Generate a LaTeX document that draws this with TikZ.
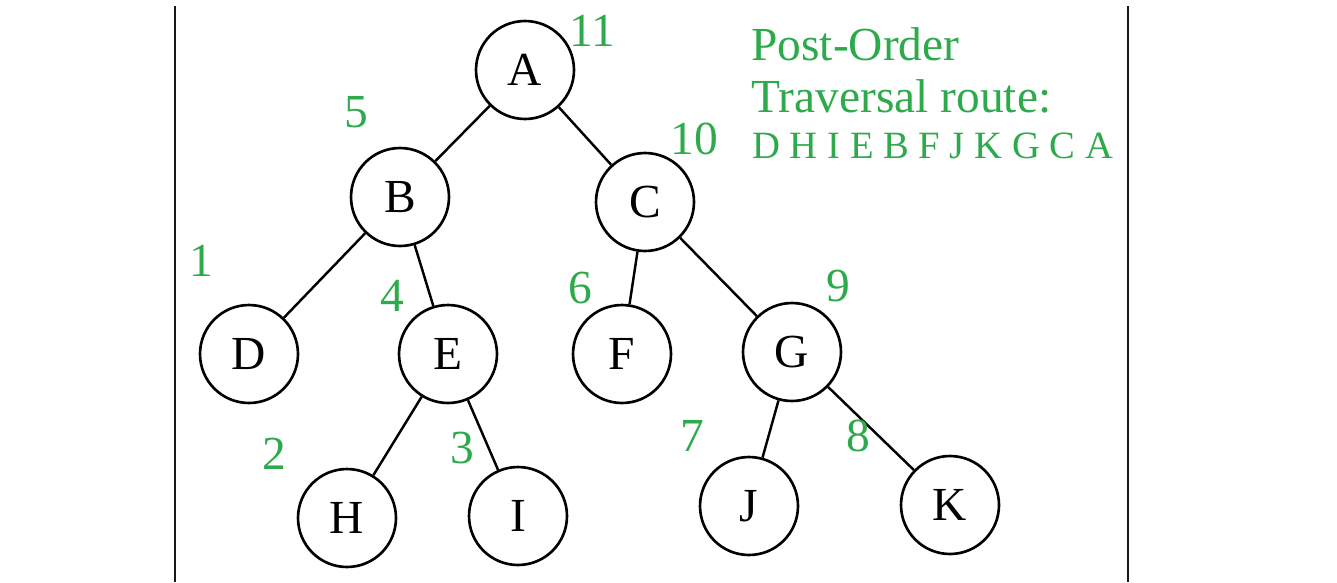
\documentclass[tikz,border=0pt]{standalone}
\usepackage{fontspec}
\setmainfont{Liberation Serif}
\usepackage{xcolor}
\usepackage{tikz}
\usetikzlibrary{positioning}
\definecolor{ordgreen}{RGB}{45,170,75}

\begin{document}
\begin{tikzpicture}[
  x=0.02cm, y=-0.02cm,
  treenode/.style={circle, draw=black, line width=1.5pt, fill=white,
                   minimum size=1.96cm, inner sep=0pt,
                   font=\fontsize{27}{30}\selectfont},
  edge/.style={line width=1.4pt, draw=black},
  step num/.style={text=ordgreen, inner sep=0pt,
                   font=\fontsize{27}{30}\selectfont},
  route/.style={text=ordgreen, inner sep=0pt, anchor=base west},
  frame/.style={draw=black!90}
]

\useasboundingbox (0,0) rectangle (1337,582);

\draw[frame, line width=1.3pt] (175,6) -- (175,582);
\draw[frame, line width=0.8pt] (1128,6) -- (1128,582);

\node[treenode] (A) at (525, 70)  {A};
\node[treenode] (B) at (400,197)  {B};
\node[treenode] (C) at (645,202)  {C};
\node[treenode] (D) at (249,354)  {D};
\node[treenode] (E) at (448,354)  {E};
\node[treenode] (F) at (622,354)  {F};
\node[treenode] (G) at (792,352)  {G};
\node[treenode] (H) at (347,518)  {H};
\node[treenode] (I) at (518,516)  {I};
\node[treenode] (J) at (749,506)  {J};
\node[treenode] (K) at (950,505)  {K};

\draw[edge] (A) -- (B);
\draw[edge] (A) -- (C);
\draw[edge] (B) -- (D);
\draw[edge] (B) -- (E);
\draw[edge] (C) -- (F);
\draw[edge] (C) -- (G);
\draw[edge] (E) -- (H);
\draw[edge] (E) -- (I);
\draw[edge] (G) -- (J);
\draw[edge] (G) -- (K);

\node[step num] (n1)  at (201,261) {1};
\node[step num] (n2)  at (274,454) {2};
\node[step num] (n3)  at (462,448) {3};
\node[step num] (n4)  at (392,296) {4};
\node[step num] (n5)  at (356,112) {5};
\node[step num] (n6)  at (580,288) {6};
\node[step num] (n7)  at (692,436) {7};
\node[step num] (n8)  at (858,436) {8};
\node[step num] (n9)  at (838,286) {9};
\node[step num] (n10) at (694,139) {10};
\node[step num] (n11) at (592, 31) {11};

\node[route, font=\fontsize{27}{30}\selectfont] (title1) at (751, 60)  {Post-Order};
\node[route, font=\fontsize{27}{30}\selectfont] (title2) at (751,112)  {Traversal route:};
\node[route, font=\fontsize{22}{26}\selectfont] (seq)    at (752,158)  {D H I E B F J K G C A};

\end{tikzpicture}
\end{document}
